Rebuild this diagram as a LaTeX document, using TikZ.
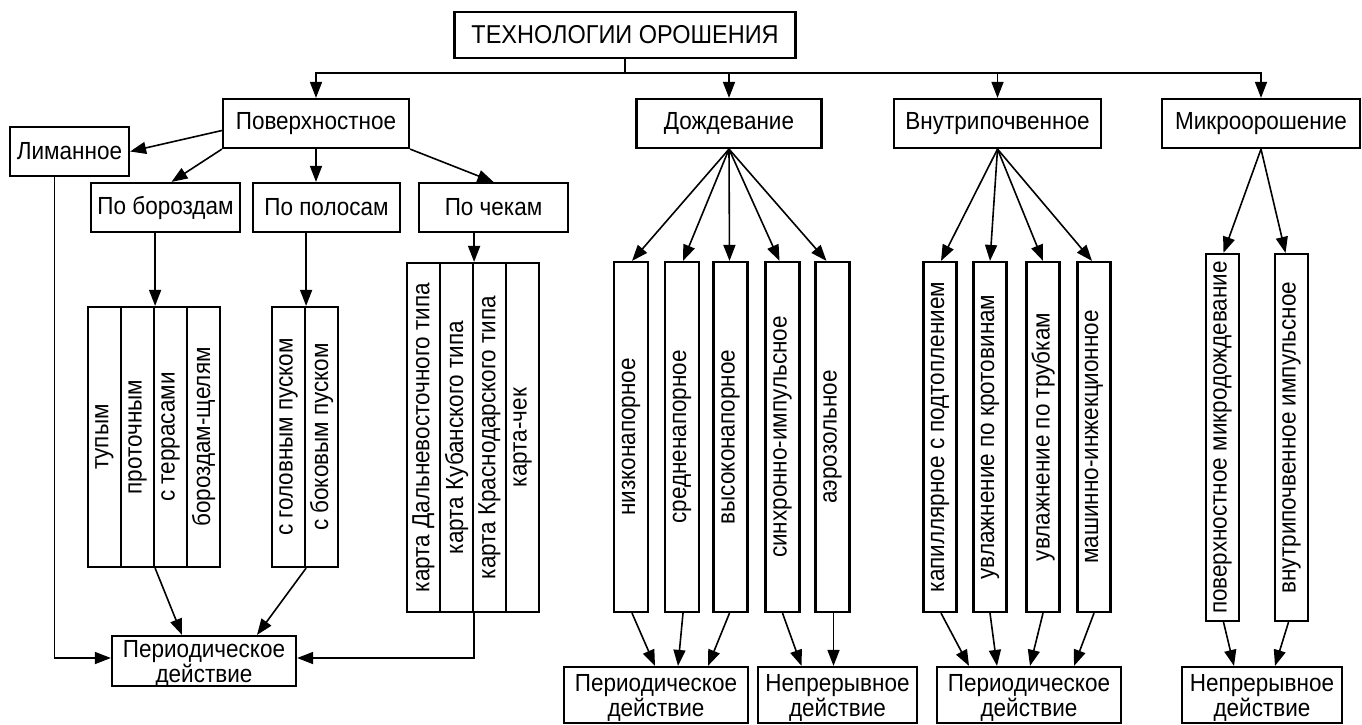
\documentclass[tikz,border=0pt]{standalone}
\usepackage{fontspec}
\setmainfont{Liberation Sans}
\usetikzlibrary{arrows.meta,calc}
\newcommand\tx[1]{\scalebox{1}[1.1]{#1}}
\newcommand\tl[1]{\raisebox{-3pt}[\height][\depth]{\tx{#1}}}
\newcommand\rt[1]{\rotatebox{90}{\tx{#1}}}
\begin{document}
\begin{tikzpicture}[x=1pt,y=-1pt,
  box/.style={draw, line width=2.2pt, inner sep=0pt, align=center, font=\fontsize{22.5}{21}\selectfont},
  topbox/.style={box, minimum height=49pt},
  fcol/.style={box, minimum width=33pt, minimum height=260pt},
  ccol/.style={box, minimum width=33pt, minimum height=349pt},
  dcol/.style={box, minimum width=34pt, minimum height=350pt},
  vcol/.style={box, minimum width=33pt, minimum height=350pt},
  mcol/.style={box, minimum width=33pt, minimum height=367pt},
  botbox/.style={box, minimum height=56pt},
  ln/.style={line width=1.6pt},
  arr/.style={line width=1.6pt, -{Triangle[length=16pt,width=12pt]}}]
\useasboundingbox (0,0) rectangle (1362,724);
\fill[white] (0,0) rectangle (1362,724);
% top level
\node[box, minimum width=341pt, minimum height=46pt, font=\fontsize{23.5}{25}\selectfont] (title) at (625,35) {\tx{ТЕХНОЛОГИИ ОРОШЕНИЯ}};
\node[topbox, minimum width=186pt] (pov) at (316,123.5) {\tx{Поверхностное}};
\node[topbox, minimum width=185pt] (dozh) at (729,123.5) {\tx{Дождевание}};
\node[topbox, minimum width=207pt] (vnut) at (997.5,123.5) {\tx{Внутрипочвенное}};
\node[topbox, minimum width=198pt] (mikro) at (1261,123.5) {\tx{Микроорошение}};
\node[topbox, minimum width=119pt] (lim) at (69.5,151.5) {\tx{Лиманное}};
\node[topbox, minimum width=149pt] (bor) at (165.5,207.5) {\tx{По бороздам}};
\node[topbox, minimum width=147pt] (pol) at (326.5,207.5) {\tx{По полосам}};
\node[topbox, minimum width=149pt] (chek) at (493.5,207.5) {\tx{По чекам}};
% furrows
\node[fcol] (f1) at (104.5,437) {\rt{тупым}};
\node[fcol] (f2) at (137.5,437) {\rt{проточным}};
\node[fcol] (f3) at (170.5,437) {\rt{с террасами}};
\node[fcol] (f4) at (203.5,437) {\rt{бороздам-щелям}};
% strips
\node[fcol] (s1) at (288.5,437) {\rt{с головным пуском}};
\node[fcol] (s2) at (321.5,437) {\rt{с боковым пуском}};
% checks
\node[ccol] (c1) at (423.5,437.5) {\rt{карта Дальневосточного типа}};
\node[ccol] (c2) at (456.5,437.5) {\rt{карта Кубанского типа}};
\node[ccol] (c3) at (489.5,437.5) {\rt{карта Краснодарского типа}};
\node[ccol] (c4) at (522.5,437.5) {\rt{карта-чек}};
% rain
\node[dcol] (d1) at (631,437) {\rt{низконапорное}};
\node[dcol] (d2) at (682,437) {\rt{средненапорное}};
\node[dcol] (d3) at (730.5,437) {\rt{высоконапорное}};
\node[dcol] (d4) at (782.5,437) {\rt{синхронно-импульсное}};
\node[dcol] (d5) at (832.5,437) {\rt{аэрозольное}};
% subsoil
\node[vcol] (v1) at (940,437) {\rt{капиллярное с подтоплением}};
\node[vcol] (v2) at (990,437) {\rt{увлажнение по кротовинам}};
\node[vcol] (v3) at (1043,437) {\rt{увлажнение по трубкам}};
\node[vcol] (v4) at (1094,437) {\rt{машинно-инжекционное}};
% micro
\node[mcol] (m1) at (1222.5,437.5) {\rt{поверхностное микродождевание}};
\node[mcol] (m2) at (1291.5,437.5) {\rt{внутрипочвенное импульсное}};
% bottom boxes
\node[box, minimum width=184pt, minimum height=50pt] (P1) at (204,661) {\tl{Периодическое}\\\tl{действие}};
\node[botbox, minimum width=184pt] (DP) at (656,695) {\tl{Периодическое}\\\tl{действие}};
\node[botbox, minimum width=159pt] (DN) at (837.5,695) {\tl{Непрерывное}\\\tl{действие}};
\node[botbox, minimum width=184pt] (VP) at (1029,695) {\tl{Периодическое}\\\tl{действие}};
\node[botbox, minimum width=160pt] (MN) at (1262,695) {\tl{Непрерывное}\\\tl{действие}};
% top connectors
\coordinate (hub) at ($(title.south)+(0,14)$);
\draw[ln] (title.south) -- (hub);
\draw[arr] (hub) -| (pov.north);
\draw[arr] (hub) -| (dozh.north);
\draw[arr] (hub) -| (vnut.north);
\draw[arr] (hub) -| (mikro.north);
% surface
\draw[arr] ([yshift=-7pt]pov.west) -- (lim.east);
\draw[arr] (pov.south west) -- ([xshift=6pt]bor.north);
\draw[arr] (pov.south) -- (pov.south |- pol.north);
\draw[arr] (pov.south east) -- (chek.north);
\draw[arr] (f2.north east |- bor.south) -- (f2.north east);
\draw[arr] (s1.north east |- pol.south) -- (s1.north east);
\draw[arr] (c2.north east |- chek.south) -- (c2.north east);
\draw[arr] ([xshift=-15pt]lim.south) |- ([yshift=3pt]P1.west);
\draw[arr] (c2.south east) |- ([yshift=3pt]P1.east);
\draw[arr] (f2.south east) -- ([xshift=-22pt]P1.north);
\draw[arr] (s1.south east) -- ([xshift=53pt]P1.north);
% rain
\draw[arr] (dozh.south) -- ([xshift=1pt]d1.north);
\draw[arr] (dozh.south) -- ([xshift=1pt]d2.north);
\draw[arr] (dozh.south) -- ([xshift=-1pt]d3.north);
\draw[arr] (dozh.south) -- ([xshift=-3pt]d4.north);
\draw[arr] (dozh.south) -- ([xshift=-6pt]d5.north);
\draw[arr] ([xshift=1pt]d1.south) -- ([xshift=-1pt]DP.north);
\draw[arr] ([xshift=1pt]d2.south) -- ([xshift=22pt]DP.north);
\draw[arr] ([xshift=-1pt]d3.south) -- ([xshift=52pt]DP.north);
\draw[arr] (d4.south) -- ([xshift=-36pt]DN.north);
\draw[arr] ([xshift=1pt]d5.south) -- ([xshift=1pt]d5.south |- DN.north);
% subsoil
\draw[arr] (vnut.south) -- ([xshift=1pt]v1.north);
\draw[arr] (vnut.south) -- (v2.north);
\draw[arr] (vnut.south) -- (v3.north);
\draw[arr] (vnut.south) -- ([xshift=-2pt]v4.north);
\draw[arr] ([xshift=1pt]v1.south) -- ([xshift=-60pt]VP.north);
\draw[arr] (v2.south) -- ([xshift=-32pt]VP.north);
\draw[arr] (v3.south) -- ([xshift=1pt]VP.north);
\draw[arr] (v4.south) -- ([xshift=45pt]VP.north);
% micro
\draw[arr] (mikro.south) -- ([xshift=1pt]m1.north);
\draw[arr] (mikro.south) -- ([xshift=-6pt]m2.north);
\draw[arr] ([xshift=1pt]m1.south) -- ([xshift=-28pt]MN.north);
\draw[arr] ([xshift=-3pt]m2.south) -- ([xshift=13pt]MN.north);
\end{tikzpicture}
\end{document}
